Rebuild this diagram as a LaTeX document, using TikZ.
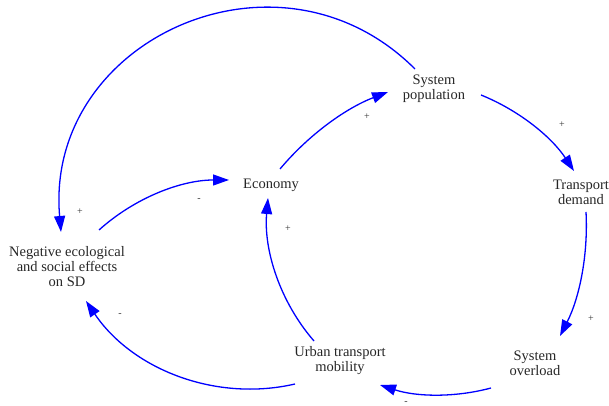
\documentclass[tikz,border=0pt]{standalone}
\usepackage{fontspec}
\setmainfont{Liberation Serif}
\usetikzlibrary{arrows.meta,calc}
\begin{document}
\begin{tikzpicture}[x=1pt,y=1pt,
  var/.style={align=center,inner sep=0pt,font=\fontsize{14.5}{15}\selectfont,text=black!85},
  link/.style={draw=blue,line width=1.3pt,-{Triangle[length=16pt,width=11pt,fill=blue]}},
  sign/.style={inner sep=0pt,font=\fontsize{10}{10}\selectfont,text=black!80}]
\useasboundingbox (0,0) rectangle (609,406);
\node[var] (syspop) at (434,317) {System\\population};
\node[var] (td) at (581,214) {Transport\\demand};
\node[var] (so) at (535,43) {System\\overload};
\node[var] (utm) at (340,45) {Urban transport\\mobility};
\node[var] (econ) at (271,221) {Economy};
\node[var] (neg) at (67,139) {Negative ecological\\and social effects\\on SD};
\draw[link] ($(syspop)+(-19,20)$) .. controls +(135:193) and +(95:193) .. ($(neg)+(-6,35)$);
\draw[link] ($(neg)+(32,37)$) .. controls +(42:48) and +(180:48) .. ($(econ)+(-42,5)$);
\draw[link] ($(econ)+(9,16)$) .. controls +(50:45) and +(201:45) .. ($(syspop)+(-46,-3)$);
\draw[link] ($(syspop)+(47,-6)$) .. controls +(-22:41) and +(123.5:41) .. ($(td)+(-7,21)$);
\draw[link] ($(td)+(5,-20)$) .. controls +(-87:43) and +(63:43) .. ($(so)+(25,27)$);
\draw[link] ($(so)+(-44,-25)$) .. controls +(195:38) and +(342:38) .. ($(utm)+(40,-24)$);
\draw[link] ($(utm)+(-26,20)$) .. controls +(131:52) and +(265:52) .. ($(econ)+(-3,-13)$);
\draw[link] ($(utm)+(-45,-23)$) .. controls +(193:82) and +(304:82) .. ($(neg)+(19,-34)$);
\node[sign] (s1) at (80,194) {+};
\node[sign] (s2) at (199,206) {-};
\node[sign] (s3) at (367,289) {+};
\node[sign] (s4) at (562,281) {+};
\node[sign] (s5) at (591,87) {+};
\node[sign] (s6) at (406,3) {-};
\node[sign] (s7) at (288,177) {+};
\node[sign] (s8) at (120,91) {-};
\end{tikzpicture}
\end{document}
